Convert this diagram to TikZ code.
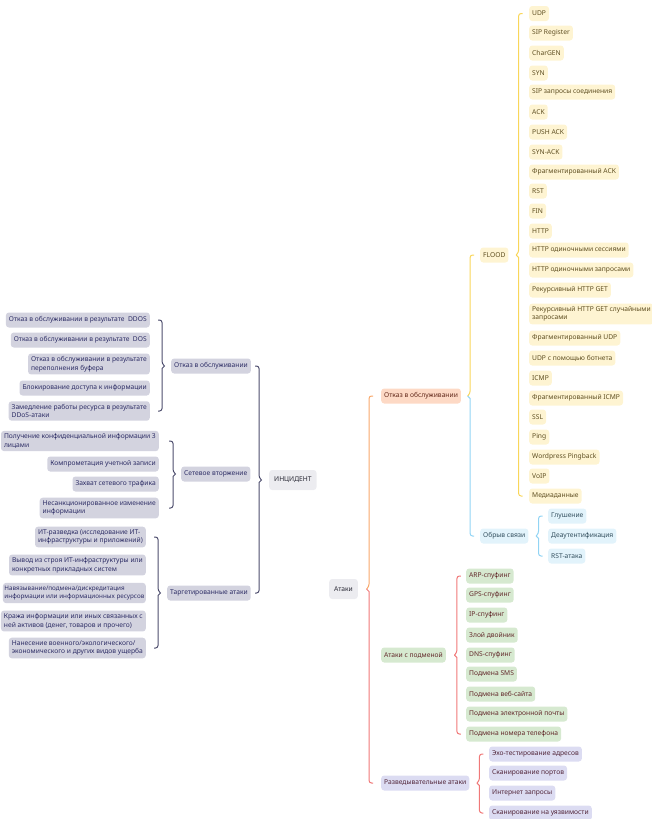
\documentclass[tikz,border=0pt]{standalone}
\usepackage{fontspec}
\setmainfont{Noto Sans}
\usetikzlibrary{calc}
\definecolor{lfill}{HTML}{D3D3DF}
\definecolor{ltext}{HTML}{2E2E66}
\definecolor{lbr}{HTML}{4D4D6D}
\definecolor{rootfill}{HTML}{ECECF0}
\definecolor{roottext}{HTML}{2A2A36}
\definecolor{ofill}{HTML}{FDD9C5}
\definecolor{otext}{HTML}{62281A}
\definecolor{obr}{HTML}{F8A86B}
\definecolor{yfill}{HTML}{FEF4D2}
\definecolor{ytext}{HTML}{5F4F22}
\definecolor{ybr}{HTML}{F9D65A}
\definecolor{bfill}{HTML}{E2F3FB}
\definecolor{btext}{HTML}{34505F}
\definecolor{bbr}{HTML}{92D4F4}
\definecolor{gfill}{HTML}{D6E9D0}
\definecolor{gtext}{HTML}{62282A}
\definecolor{rbr}{HTML}{F07878}
\definecolor{pfill}{HTML}{DCDCF2}
\definecolor{ptext}{HTML}{52263A}

% "{" bracket: parent on the left, children on the right
\newcommand\bracketR[6]{%
  \path ($(#3.east)+(#6,0)$) coordinate (m);
  \draw[#1, rounded corners=2.5] ($(m |- #4.west)+(4,0)$) -- (m |- #4.west) -- ($(m)+(0,-2.5)$) [sharp corners] -- ($(m)+(-2.5,0)$);
  \draw[#2] ($(m)+(-2.5,0)$) -- ($(m)+(0,2.5)$) [rounded corners=2.5] -- (m |- #5.west) -- ($(m |- #5.west)+(4,0)$);
}
% "}" bracket: parent on the right, children on the left
\newcommand\bracketL[5]{%
  \path ($(#2.west)+(-#5,0)$) coordinate (m);
  \draw[#1, rounded corners=2.5] ($(m |- #3.east)+(-4,0)$) -- (m |- #3.east) -- ($(m)+(0,-2.5)$) [sharp corners] -- ($(m)+(2.5,0)$) -- ($(m)+(0,2.5)$) [rounded corners=2.5] -- (m |- #4.east) -- ($(m |- #4.east)+(-4,0)$);
}

\begin{document}
\begin{tikzpicture}[x=1pt, y=-1pt,
  box/.style={rounded corners=3pt, inner xsep=3pt, inner ysep=2.8pt, minimum height=15pt,
    font=\fontsize{6.7}{8.6}\selectfont, align=left},
  lnode/.style={box, fill=lfill, text=ltext, anchor=east},
  lmid/.style={box, fill=lfill, text=ltext, anchor=west},
  rootnode/.style={box, fill=rootfill, text=roottext, anchor=west, minimum height=20pt, inner xsep=5pt},
  onode/.style={box, fill=ofill, text=otext, anchor=west},
  ynode/.style={box, fill=yfill, text=ytext, anchor=west},
  bnode/.style={box, fill=bfill, text=btext, anchor=west},
  gnode/.style={box, fill=gfill, text=gtext, anchor=west},
  pnode/.style={box, fill=pfill, text=ptext, anchor=west},
  brk/.style={line width=1pt}
]
\useasboundingbox (0,0) rectangle (651,819);

% ---------- left tree: ИНЦИДЕНТ ----------
\node[rootnode] (inc) at (269,480) {ИНЦИДЕНТ};

\node[lmid] (dos) at (171,366) {Отказ в обслуживании};
\node[lnode] (d1) at (150,320) {Отказ в обслуживании в результате\ \ DDOS};
\node[lnode] (d2) at (150,340) {Отказ в обслуживании в результате\ \ DOS};
\node[lnode] (d3) at (150,364) {Отказ в обслуживании в результате\\переполнения буфера};
\node[lnode] (d4) at (150,388) {Блокирование доступа к информации};
\node[lnode] (d5) at (150,411) {Замедление работы ресурса в результате\\DDoS-атаки};

\node[lmid] (net) at (181,474) {Сетевое вторжение};
\node[lnode] (n1) at (159,441) {Получение конфиденциальной информации 3\\лицами};
\node[lnode] (n2) at (159,464) {Компрометация учетной записи};
\node[lnode] (n3) at (159,484) {Захват сетевого трафика};
\node[lnode] (n4) at (159,508) {Несанкционированное изменение\\информации};

\node[lmid] (tar) at (167,593) {Таргетированные атаки};
\node[lnode] (t1) at (146,537) {ИТ-разведка (исследование ИТ-\\инфраструктуры и приложений)};
\node[lnode] (t2) at (146,565) {Вывод из строя ИТ-инфраструктуры или\\конкретных прикладных систем};
\node[lnode, inner xsep=1.5pt, font=\fontsize{6.3}{8.6}\selectfont] (t3) at (146,593) {Навязывание/подмена/дискредитация\\информации или информационных ресурсов};
\node[lnode] (t4) at (146,621) {Кража информации или иных связанных с\\ней активов (денег, товаров и прочего)};
\node[lnode] (t5) at (146,648) {Нанесение военного/экологического/\\экономического и других видов ущерба};

\begin{scope}[brk]
\bracketL{lbr}{dos}{d1}{d5}{9}
\bracketL{lbr}{net}{n1}{n4}{8}
\bracketL{lbr}{tar}{t1}{t5}{9}
\bracketL{lbr}{inc}{dos}{tar}{10}
\end{scope}

% ---------- right tree: Атаки ----------
\node[rootnode] (att) at (329,589) {Атаки};

\node[onode] (rdos) at (381,396) {Отказ в обслуживании};
\node[ynode] (flood) at (480,255) {FLOOD};
\foreach \y/\t [count=\i] in {
  13.5/UDP, 33/SIP Register, 53/CharGEN, 73/SYN, 92/SIP запросы соединения,
  112/ACK, 132/PUSH ACK, 152/SYN-ACK, 172/Фрагментированный ACK, 191/RST,
  211/FIN, 231/HTTP, 250/HTTP одиночными сессиями, 270/HTTP одиночными запросами,
  290/Рекурсивный HTTP GET, 314/{Рекурсивный HTTP GET случайными\\запросами},
  338/Фрагментированный UDP, 358/UDP с помощью ботнета, 378/ICMP,
  398/Фрагментированный ICMP, 417/SSL, 437/Ping, 457/Wordpress Pingback,
  476/VoIP, 496/Медиаданные}
  \node[ynode] (f\i) at (529,\y) {\t};

\node[bnode] (cut) at (480,536) {Обрыв связи};
\node[bnode] (c1) at (548,516) {Глушение};
\node[bnode] (c2) at (548,536) {Деаутентификация};
\node[bnode] (c3) at (548,556) {RST-атака};

\node[gnode] (spoof) at (381,655) {Атаки с подменой};
\foreach \y/\t [count=\i] in {
  576/ARP-спуфинг, 595/GPS-спуфинг, 615/IP-спуфинг, 635/Злой двойник,
  655/DNS-спуфинг, 674/Подмена SMS, 694/Подмена веб-сайта,
  714/Подмена электронной почты, 734/Подмена номера телефона}
  \node[gnode] (s\i) at (466,\y) {\t};

\node[pnode] (recon) at (381,783) {Разведывательные атаки};
\foreach \y/\t [count=\i] in {
  754/Эхо-тестирование адресов, 773/Сканирование портов,
  793/Интернет запросы, 813/Сканирование на уязвимости}
  \node[pnode] (r\i) at (489,\y) {\t};

\begin{scope}[brk]
\bracketR{ybr}{ybr}{flood}{f1}{f25}{10}
\bracketR{ybr}{bbr}{rdos}{flood}{cut}{9}
\bracketR{bbr}{bbr}{cut}{c1}{c3}{10}
\bracketR{obr}{rbr}{att}{rdos}{recon}{11}
\bracketR{rbr}{rbr}{spoof}{s1}{s9}{11}
\bracketR{rbr}{rbr}{recon}{r1}{r4}{10}
\end{scope}
\end{tikzpicture}
\end{document}
